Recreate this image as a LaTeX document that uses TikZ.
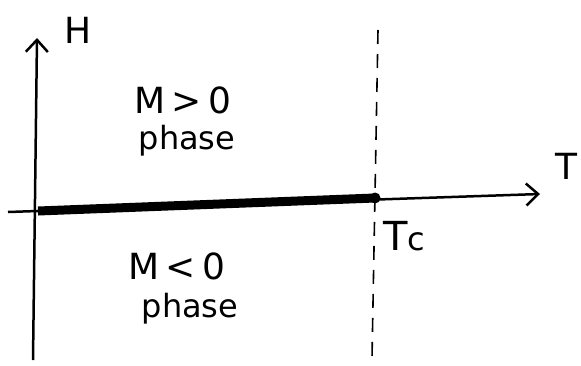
\documentclass[tikz,border=0pt]{standalone}
\usepackage{fontspec}
\setmainfont{DejaVu Sans}
\usetikzlibrary{arrows.meta}
\begin{document}
\begin{tikzpicture}[x=1pt,y=-1pt,
  axis/.style={line width=2.5pt,-{Straight Barb[length=12pt,width=22pt,line width=2.5pt]}},
  lbl/.style={font=\fontsize{36}{36}\selectfont},
  sublbl/.style={font=\fontsize{32}{32}\selectfont},
  thick line/.style={line width=9pt},
  tcline/.style={line width=1.6pt,dash pattern=on 14pt off 10pt}]
\useasboundingbox (0,0) rectangle (581,365);
\fill[white] (0,0) rectangle (581,365);
\coordinate (vb) at (33,360);
\coordinate (vt) at (37,38);
\coordinate (hl) at (8,212);
\coordinate (hr) at (540,194);
\coordinate (tl) at (38,211);
\node[circle,fill=black,inner sep=0pt,minimum size=11pt] (tc) at (375,198) {};
\coordinate (dt) at (378,30);
\coordinate (db) at (372,358);
\draw[axis] (vb) -- (vt);
\draw[axis] (hl) -- (hr);
\draw[thick line] (tl) -- (tc.center);
\draw[tcline] (dt) -- (db);
\node[lbl] (H) at (78,30) {H};
\node[lbl] (T) at (566,166) {T};
\node[font=\fontsize{40}{40}\selectfont,anchor=west] (Tc) at (380,236) {T\fontsize{32}{32}\selectfont c};
\node[lbl] (Mp) at (183,100) {M\,>\,0};
\node[sublbl] (pp) at (187,141) {phase};
\node[lbl] (Mm) at (177,266) {M\,<\,0};
\node[sublbl] (pm) at (190,309) {phase};
\end{tikzpicture}
\end{document}
